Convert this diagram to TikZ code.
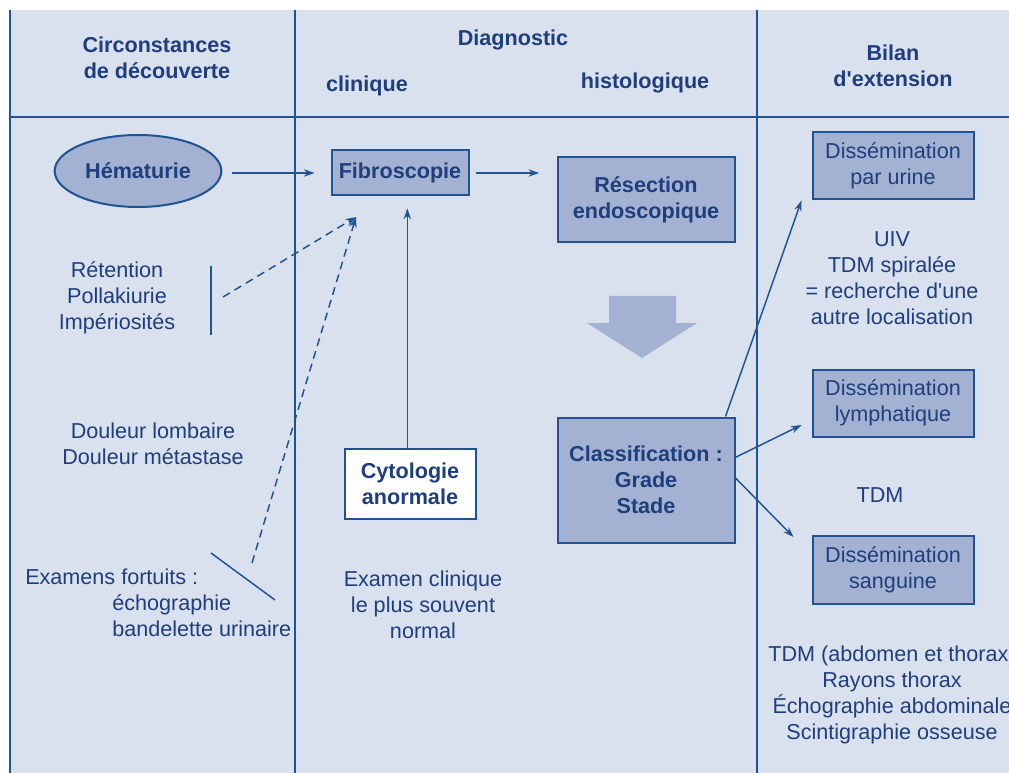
\documentclass[tikz,border=0pt]{standalone}
\usepackage{fontspec}
\setmainfont{Liberation Sans}[Ligatures=TeXOff]
\usepackage{xcolor}
\usepackage{tikz}
\usetikzlibrary{arrows.meta,shapes.geometric}

\definecolor{fondbleu}{HTML}{D9E0EE}
\definecolor{boitebleu}{HTML}{A3B2D3}
\definecolor{traitbleu}{HTML}{1F5391}
\definecolor{textebleu}{HTML}{1F3E7C}
\newcommand{\taille}{\fontsize{16.2pt}{19.5pt}\selectfont}

\begin{document}
\begin{tikzpicture}[x=0.75pt, y=-0.75pt,
  txt/.style={text=textebleu, align=center, font=\taille, inner sep=0pt},
  titre/.style={txt, font=\taille\bfseries},
  boite/.style={draw=traitbleu, fill=boitebleu, line width=1.5pt, rectangle,
                text=textebleu, align=center, font=\taille},
  gras/.style={boite, font=\taille\bfseries},
  colonne/.style={draw=traitbleu, line width=1.6pt},
  fleche/.style={-{Stealth[length=8pt, width=5.5pt]}, draw=traitbleu, line width=1.1pt},
  tiret/.style={fleche, dashed, dash pattern=on 6pt off 4pt}
]
  \clip (0,0) rectangle (1009,773);
  \fill[fondbleu] (10,10) rectangle (1009,773);

  % grille du tableau
  \draw[colonne] (10,10) -- (10,773);
  \draw[colonne] (295,10) -- (295,773);
  \draw[colonne] (757,10) -- (757,773);
  \draw[colonne, line width=2pt] (10,117) -- (1009,117);

  % en-tetes
  \node[titre] (hcirc)  at (157,58)  {Circonstances\\de découverte};
  \node[titre] (hdiag)  at (513,40)  {Diagnostic};
  \node[titre] (hclin)  at (367,86)  {clinique};
  \node[titre] (hhisto) at (645,83)  {histologique};
  \node[titre] (hbilan) at (893,66)  {Bilan\\d'extension};

  % circonstances
  \node[boite, ellipse, font=\taille\bfseries, inner sep=0pt,
        minimum width=125pt, minimum height=54pt] (hemat) at (138,171) {Hématurie};
  \node[txt] (reten)  at (117,298) {Rétention\\Pollakiurie\\Impériosités};
  \node[txt] (doul)   at (153,444) {Douleur lombaire\\Douleur métastase};
  \node[txt, anchor=west] (exam) at (25,577) {Examens fortuits :};
  \node[txt, anchor=west, align=left] (echo) at (112,616) {échographie\\bandelette urinaire};

  % diagnostic
  \node[gras, minimum width=102.75pt, minimum height=33.75pt] (fibro) at (400,173) {Fibroscopie};
  \node[gras, fill=white, minimum width=98.25pt, minimum height=52.5pt] (cyto) at (410,484) {Cytologie\\anormale};
  \node[txt] (clinnorm) at (423,605) {Examen clinique\\le plus souvent\\normal};
  \node[gras, minimum width=132.75pt, minimum height=63.75pt] (resec) at (646,200) {Résection\\endoscopique};
  \node[gras, minimum width=132.75pt, minimum height=93.75pt] (classif) at (646,480) {Classification :\\Grade\\Stade};

  % bilan d'extension
  \node[boite, minimum width=120.75pt, minimum height=50.25pt] (urine) at (893,166) {Dissémination\\par urine};
  \node[boite, minimum width=120.75pt, minimum height=50.25pt] (lymph) at (893,403) {Dissémination\\lymphatique};
  \node[boite, minimum width=120.75pt, minimum height=51pt]    (sang)  at (893,570) {Dissémination\\sanguine};
  \node[txt] (uiv)  at (892,278) {UIV\\TDM spiralée\\= recherche d'une\\autre localisation};
  \node[txt] (tdm)  at (880,495) {TDM};
  \node[txt] (tdmab) at (892,695) {TDM (abdomen et thorax)\\Rayons thorax\\Échographie abdominale\\Scintigraphie osseuse};

  % grosse fleche
  \fill[boitebleu] (609,296) -- (676,296) -- (676,323) -- (697,323) -- (642,358)
    -- (587,323) -- (609,323) -- cycle;

  % accolades et fleches en tirets
  \coordinate (pointe) at (356,217);
  \coordinate (acc1a) at (211,266);
  \coordinate (acc1b) at (211,335);
  \coordinate (dep1)  at (223,297);
  \coordinate (acc2a) at (211,553);
  \coordinate (acc2b) at (275,600);
  \coordinate (dep2)  at (252,563);
  \draw[traitbleu, line width=1.1pt] (acc1a) -- (acc1b);
  \draw[traitbleu, line width=1.1pt] (acc2a) -- (acc2b);
  \draw[tiret] (dep1) -- (pointe);
  \draw[tiret] (dep2) -- (pointe);

  % fleches
  \draw[fleche, shorten <=7.5pt, shorten >=12pt] (hemat.east |- fibro.west) -- (fibro.west);
  \draw[fleche, shorten <=5pt, shorten >=13pt] (fibro.east) -- (fibro.east -| resec.west);
  \draw[fleche, shorten >=9pt] ([xshift=-2pt]cyto.north) -- ([xshift=-2pt]cyto.north |- fibro.south);
  \draw[fleche] ([xshift=-7.5pt]classif.north east) -- ([xshift=-7.5pt]urine.south west);
  \draw[fleche] ([yshift=17pt]classif.east) -- ([xshift=-7.5pt, yshift=-16.5pt]lymph.west);
  \draw[fleche] ([yshift=1.5pt]classif.east) -- ([xshift=-13.5pt, yshift=-1.5pt]sang.north west);
\end{tikzpicture}
\end{document}
